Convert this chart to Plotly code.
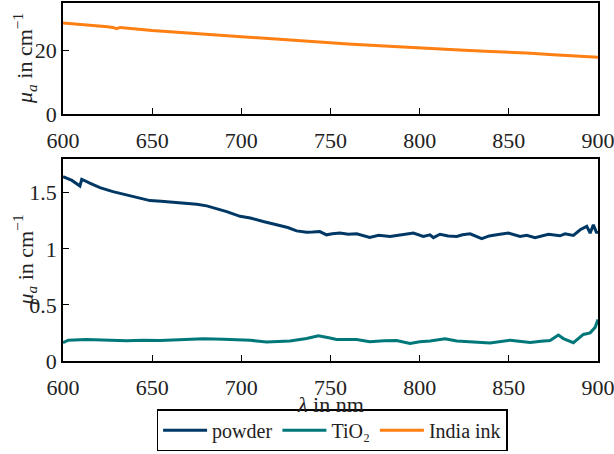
import plotly.graph_objects as go

# India ink (top panel)
ink_wl = [600, 610, 620, 625, 628, 630, 632, 640, 650, 660, 675, 690, 700, 710, 725, 740, 750, 760, 775, 790, 800, 810, 825, 840, 850, 860, 875, 890, 900]
ink_mu = [28.7, 28.3, 27.8, 27.5, 27.3, 26.9, 27.3, 26.8, 26.3, 25.9, 25.3, 24.8, 24.4, 24.0, 23.3, 22.8, 22.4, 22.1, 21.6, 21.1, 20.8, 20.5, 20.1, 19.7, 19.5, 19.2, 18.7, 18.3, 17.9]

# Powder (bottom panel)
powder_wl = [600, 605, 609.5, 610.5, 615, 620.7, 628, 635.7, 642, 648.8, 655, 661.9, 668, 675, 680.6, 686, 691.8, 699.3, 705, 712.3, 720, 726, 731, 736.6, 740, 744, 747.8, 751, 755.3, 760, 764.7, 768, 772, 777, 783.4, 790, 796.5, 802, 805.8, 807.7, 811.4, 816, 820.8, 824, 828.3, 834.8, 839, 843.2, 849.7, 856.3, 860, 864.7, 868, 872.2, 878.7, 881.5, 886.2, 890, 893.7, 895.6, 897.4, 899.3, 900]
powder_mu = [1.643, 1.61, 1.56, 1.62, 1.585, 1.545, 1.51, 1.48, 1.455, 1.43, 1.425, 1.415, 1.41, 1.397, 1.383, 1.36, 1.332, 1.29, 1.275, 1.243, 1.215, 1.19, 1.16, 1.148, 1.15, 1.154, 1.125, 1.135, 1.14, 1.13, 1.134, 1.12, 1.101, 1.12, 1.11, 1.125, 1.14, 1.11, 1.125, 1.10, 1.13, 1.115, 1.11, 1.125, 1.134, 1.09, 1.115, 1.125, 1.14, 1.11, 1.12, 1.10, 1.115, 1.13, 1.116, 1.134, 1.12, 1.17, 1.2, 1.14, 1.214, 1.14, 1.16]

# TiO2 (bottom panel)
tio2_wl = [600, 603, 613, 625, 635.7, 645, 654.4, 665, 678.7, 690, 697.4, 705, 714.2, 720, 727.3, 736.6, 743.2, 749.7, 753.4, 764.7, 772, 780, 787, 794.6, 800, 805.8, 814.2, 820.8, 830, 839.5, 850.7, 856, 862, 868, 873.1, 877.8, 880.6, 886.2, 891.8, 895.6, 898.4, 900]
tio2_mu = [0.163, 0.186, 0.192, 0.186, 0.18, 0.185, 0.183, 0.19, 0.198, 0.195, 0.192, 0.185, 0.169, 0.172, 0.178, 0.20, 0.225, 0.205, 0.192, 0.192, 0.171, 0.18, 0.183, 0.157, 0.172, 0.178, 0.198, 0.178, 0.172, 0.16, 0.186, 0.176, 0.166, 0.175, 0.183, 0.231, 0.20, 0.163, 0.237, 0.251, 0.30, 0.37]

x_ticks = [600, 650, 700, 750, 800, 850, 900]

C_POWDER = "#003865"
C_TIO2 = "#00787a"
C_INK = "#ff7f12"
FONT = '"Liberation Serif", "Times New Roman", Times, serif'
FS = 22

fig = go.Figure()
fig.add_trace(go.Scatter(x=powder_wl, y=powder_mu, mode="lines", name="powder",
                         line=dict(color=C_POWDER, width=3), xaxis="x2", yaxis="y2"))
fig.add_trace(go.Scatter(x=tio2_wl, y=tio2_mu, mode="lines", name="TiO₂",
                         line=dict(color=C_TIO2, width=3), xaxis="x2", yaxis="y2"))
fig.add_trace(go.Scatter(x=ink_wl, y=ink_mu, mode="lines", name="India ink",
                         line=dict(color=C_INK, width=3), xaxis="x", yaxis="y"))

axis_common = dict(showline=True, linecolor="black", linewidth=1.5, mirror=True,
                   ticks="inside", ticklen=6, tickwidth=1.3, tickcolor="black",
                   showgrid=False, zeroline=False, automargin=False,
                   ticklabeloverflow="allow",
                   tickfont=dict(family=FONT, size=FS, color="#222"))

ytitle = "<i>μ<sub>a</sub></i> in cm<sup>−1</sup>"

TOP_DOM = [0.690, 1]
BOT_DOM = [0, 0.564]

fig.update_layout(
    width=614, height=454,
    margin=dict(l=63, r=16, t=3, b=93, autoexpand=False),
    paper_bgcolor="white", plot_bgcolor="white",
    font=dict(family=FONT, size=FS, color="#222"),
    xaxis=dict(domain=[0, 1], anchor="y", range=[600, 900], tickvals=x_ticks,
               ticklabelstandoff=6, **axis_common),
    yaxis=dict(domain=TOP_DOM, anchor="x", range=[0, 35], tickvals=[0, 20], **axis_common),
    xaxis2=dict(domain=[0, 1], anchor="y2", range=[600, 900], tickvals=x_ticks,
                ticklabelstandoff=6, **axis_common),
    yaxis2=dict(domain=BOT_DOM, anchor="x2", range=[0, 1.8], tickvals=[0, 0.5, 1, 1.5],
                ticktext=["0", "0.5", "1", "1.5"], **axis_common),
    showlegend=True,
    legend=dict(orientation="h", x=0.503, xanchor="center",
                yref="container", y=0.006, yanchor="bottom",
                bordercolor="black", borderwidth=1.5, bgcolor="white",
                font=dict(family=FONT, size=20, color="#222"),
                itemwidth=44, tracegroupgap=0),
    annotations=[
        dict(text=ytitle, textangle=-90, xref="paper", yref="paper",
             x=-0.072, y=(TOP_DOM[0] + TOP_DOM[1]) / 2, xanchor="center", yanchor="middle",
             showarrow=False, font=dict(family=FONT, size=FS, color="#222")),
        dict(text=ytitle, textangle=-90, xref="paper", yref="paper",
             x=-0.072, y=(BOT_DOM[0] + BOT_DOM[1]) / 2, xanchor="center", yanchor="middle",
             showarrow=False, font=dict(family=FONT, size=FS, color="#222")),
        dict(text="<i>λ</i> in nm", xref="paper", yref="paper",
             x=0.5, y=-0.122, xanchor="center", yanchor="middle",
             showarrow=False, font=dict(family=FONT, size=FS, color="#222")),
    ],
)

fig.write_html("out.html", config={"displayModeBar": False},
               post_script="document.body.style.margin='0px';")
